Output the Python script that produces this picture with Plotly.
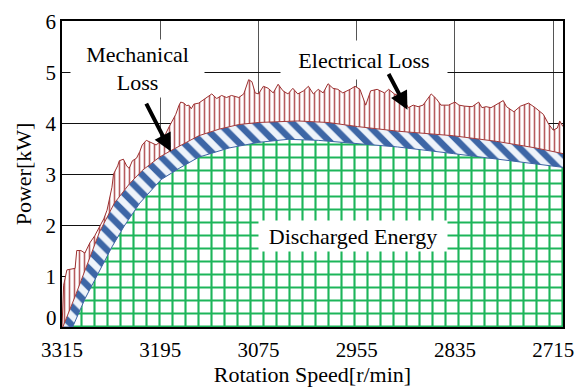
import plotly.graph_objects as go

# ---- data ----
tick_speeds = [3315, 3195, 3075, 2955, 2835, 2715]
power_ticks = [0, 1, 2, 3, 4, 5, 6]

# Discharged energy (top of green area), kW
energy_speed = [3315, 3302, 3287, 3271, 3254, 3239, 3220, 3194, 3172, 3148, 3111,
                3075, 3039, 3002, 2954, 2905, 2837, 2784, 2736, 2703]
energy_kw = [0, 0, 0.55, 1.06, 1.57, 1.98, 2.43, 2.89, 3.11, 3.33, 3.51,
             3.62, 3.68, 3.66, 3.60, 3.53, 3.40, 3.29, 3.20, 3.13]

# Energy + mechanical loss (top of blue band), kW
mech_speed = [3315, 3314, 3299, 3285, 3269, 3251, 3233, 3217, 3196, 3184, 3166,
              3148, 3123, 3099, 3075, 3051, 3027, 2990, 2954, 2905, 2837, 2784,
              2736, 2703]
mech_kw = [0, 0, 0.60, 1.20, 1.87, 2.43, 2.80, 3.07, 3.33, 3.44, 3.60,
           3.75, 3.88, 3.97, 4.01, 4.02, 4.04, 4.01, 3.93, 3.84, 3.75, 3.64,
           3.51, 3.40]

# Total input power incl. electrical loss (top of red area), kW
total_speed = [3315, 3314, 3313, 3309, 3303, 3299, 3297, 3292, 3287, 3283, 3281,
               3275, 3269, 3264, 3260, 3257, 3254, 3252, 3247, 3245, 3240, 3236,
               3233, 3229, 3224, 3220, 3217, 3212, 3206, 3200, 3196, 3193, 3188,
               3184, 3179, 3176, 3172, 3170, 3166, 3163, 3160, 3157, 3154, 3148,
               3132, 3126, 3120, 3114, 3108, 3099, 3093, 3087, 3083, 3079, 3075,
               3069, 3063, 3057, 3051, 3045, 3039, 3033, 3027, 3020, 3014, 3008,
               3002, 2996, 2990, 2984, 2978, 2972, 2963, 2957, 2951, 2944, 2938,
               2930, 2921, 2916, 2909, 2904, 2898, 2892, 2886, 2880, 2874, 2864,
               2858, 2852, 2843, 2835, 2830, 2823, 2814, 2806, 2802, 2797, 2791,
               2785, 2776, 2772, 2763, 2755, 2745, 2737, 2727, 2721, 2715, 2710,
               2707, 2703]
total_kw = [0, 0.69, 0.82, 1.12, 1.13, 1.15, 1.50, 1.50, 1.45, 1.57, 1.65,
            1.79, 1.98, 2.12, 2.29, 2.52, 2.74, 3.00, 3.16, 3.26, 3.29, 3.16,
            3.11, 3.26, 3.31, 3.44, 3.57, 3.66, 3.62, 3.57, 3.62, 3.68, 3.80,
            3.93, 4.08, 4.17, 4.35, 4.41, 4.39, 4.34, 4.35, 4.28, 4.37, 4.39,
            4.57, 4.48, 4.54, 4.50, 4.54, 4.50, 4.57, 4.85, 4.81, 4.59, 4.57,
            4.72, 4.68, 4.59, 4.76, 4.63, 4.57, 4.68, 4.57, 4.63, 4.72, 4.57,
            4.66, 4.59, 4.77, 4.68, 4.66, 4.59, 4.66, 4.72, 4.66, 4.35, 4.63,
            4.66, 4.59, 4.66, 4.57, 4.54, 4.48, 4.30, 4.35, 4.32, 4.35, 4.57,
            4.48, 4.35, 4.35, 4.41, 4.35, 4.33, 4.32, 4.41, 4.30, 4.32, 4.30,
            4.35, 4.44, 4.32, 4.22, 4.33, 4.39, 4.30, 4.17, 3.99, 3.86, 3.90,
            4.04, 3.93]

FONT = "Liberation Serif"

fig = go.Figure()

fig.add_trace(go.Scatter(
    x=energy_speed, y=energy_kw, mode="lines", fill="tozeroy",
    line=dict(color="#3b63a3", width=1),
    fillpattern=dict(shape="+", size=13, solidity=0.3, fgcolor="#1db55a",
                     bgcolor="white", fillmode="replace"),
    hoverinfo="skip", showlegend=False))

fig.add_trace(go.Scatter(
    x=mech_speed, y=mech_kw, mode="lines", fill="tonexty",
    line=dict(color="#a33a3a", width=1),
    fillpattern=dict(shape="\\", size=13, solidity=0.5, fgcolor="#3d66a6",
                     bgcolor="#eef3fa", fillmode="replace"),
    hoverinfo="skip", showlegend=False))

fig.add_trace(go.Scatter(
    x=total_speed, y=total_kw, mode="lines", fill="tonexty",
    line=dict(color="#9c2f2f", width=1),
    fillpattern=dict(shape="|", size=5, solidity=0.32, fgcolor="#b65c5e",
                     bgcolor="white", fillmode="replace"),
    hoverinfo="skip", showlegend=False))

# text labels (white boxes hide the grid behind them)
fig.add_annotation(x=3223, y=5.07, xref="x", yref="y", text="Mechanical<br>Loss",
                   showarrow=False, bgcolor="white", width=131, height=55,
                   font=dict(family=FONT, size=22, color="black"))
fig.add_annotation(x=2946, y=5.23, xref="x", yref="y", text="Electrical Loss",
                   showarrow=False, bgcolor="white", width=164, height=36,
                   font=dict(family=FONT, size=22, color="black"))
fig.add_annotation(x=2960, y=1.79, xref="x", yref="y", text="Discharged Energy",
                   showarrow=False, bgcolor="white", width=186, height=28,
                   font=dict(family=FONT, size=22, color="black"))

# the "0" power label sits a little higher in the reference
fig.add_annotation(x=0, y=power_ticks[0], xref="paper", yref="y", xanchor="right",
                   text=str(power_ticks[0]), showarrow=False, xshift=-3, yshift=9,
                   font=dict(family=FONT, size=21, color="black"))

# arrows
fig.add_annotation(x=3182, y=3.44, ax=3213, ay=4.41, xref="x", yref="y",
                   axref="x", ayref="y", text="", showarrow=True,
                   arrowhead=2, arrowsize=0.9, arrowwidth=4, arrowcolor="black")
fig.add_annotation(x=2893, y=4.26, ax=2917, ay=4.99, xref="x", yref="y",
                   axref="x", ayref="y", text="", showarrow=True,
                   arrowhead=2, arrowsize=0.9, arrowwidth=4, arrowcolor="black")

fig.update_layout(
    width=584, height=387,
    margin=dict(l=62, r=17, t=10, b=49),
    paper_bgcolor="white", plot_bgcolor="white",
    font=dict(family=FONT, size=21, color="black"),
    xaxis=dict(range=[3315, 2703], tickvals=tick_speeds,
               ticktext=[str(v) for v in tick_speeds],
               showgrid=True, gridcolor="#555555", gridwidth=1,
               showline=True, linecolor="black", linewidth=1.5, mirror=True,
               ticks="", zeroline=False, ticklabelstandoff=3,
               tickfont=dict(family=FONT, size=21),
               title=dict(text="Rotation Speed[r/min]", standoff=0,
                          font=dict(family=FONT, size=22))),
    yaxis=dict(range=[0, 6], tickvals=power_ticks,
               ticktext=[""] + [str(v) for v in power_ticks[1:]],
               showgrid=True, gridcolor="#111111", gridwidth=1,
               showline=True, linecolor="black", linewidth=1.5, mirror=True,
               ticks="", zeroline=False, ticklabelshift=1,
               tickfont=dict(family=FONT, size=21),
               title=dict(text="Power[kW]", standoff=8,
                          font=dict(family=FONT, size=22))),
)

fig.write_html("out.html")
